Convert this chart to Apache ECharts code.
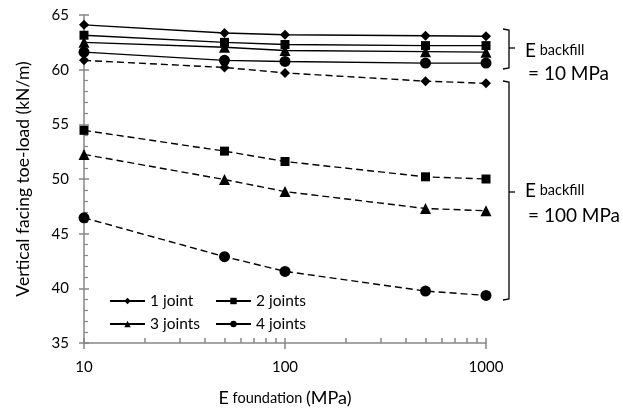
<!DOCTYPE html>
<html><head><meta charset="utf-8">
<script src="https://cdn.jsdelivr.net/npm/echarts@6/dist/echarts.min.js"></script>
<style>html,body{margin:0;padding:0;background:#fff}#c{width:623px;height:412px}</style>
</head><body><div id="c"></div>
<script>
var eFoundation = [10, 50, 100, 500, 1000];
var seriesNames = ['1 joint', '2 joints', '3 joints', '4 joints'];
// E backfill = 10 MPa (solid lines)
var bf10_1joint  = [64.1, 63.35, 63.2, 63.1, 63.05];
var bf10_2joints = [63.15, 62.5, 62.3, 62.2, 62.2];
var bf10_3joints = [62.5, 62.05, 61.75, 61.65, 61.6];
var bf10_4joints = [61.6, 60.85, 60.75, 60.6, 60.6];
// E backfill = 100 MPa (dashed lines)
var bf100_1joint  = [60.85, 60.2, 59.7, 58.95, 58.75];
var bf100_2joints = [54.45, 52.55, 51.6, 50.2, 50.0];
var bf100_3joints = [52.25, 49.95, 48.85, 47.3, 47.1];
var bf100_4joints = [46.45, 42.9, 41.55, 39.75, 39.35];
var yTicks = [35, 40, 45, 50, 55, 60, 65];
var xTicks = [10, 100, 1000];
var xMinorTicks = [20, 30, 40, 50, 60, 70, 80, 90, 200, 300, 400, 500, 600, 700, 800, 900];

var FONT = 'Lato';
var symbols = ['diamond', 'rect', 'triangle', 'circle'];
var symSizes = [10, 9, 11, 11];
function pairs(v) { return eFoundation.map(function (x, i) { return [x, v[i]]; }); }
function mk(name, idx, vals, dashed) {
  return {
    name: name, type: 'line', xAxisIndex: 0, yAxisIndex: 0,
    data: pairs(vals), symbol: symbols[idx], symbolSize: symSizes[idx],
    itemStyle: { color: '#000' },
    lineStyle: { color: '#000', width: 1.4, type: dashed ? [7, 4] : 'solid' },
    z: 3, animation: false
  };
}
var series = [
  mk(seriesNames[0], 0, bf10_1joint, false),
  mk(seriesNames[1], 1, bf10_2joints, false),
  mk(seriesNames[2], 2, bf10_3joints, false),
  mk(seriesNames[3], 3, bf10_4joints, false),
  mk(seriesNames[0], 0, bf100_1joint, true),
  mk(seriesNames[1], 1, bf100_2joints, true),
  mk(seriesNames[2], 2, bf100_3joints, true),
  mk(seriesNames[3], 3, bf100_4joints, true)
];

var axisGray = '#868686';
var legendText = { fontSize: 15.5, color: '#000', fontFamily: FONT, lineHeight: 18 };
var chart = echarts.init(document.getElementById('c'), null, { renderer: 'canvas' });
chart.setOption({
  animation: false,
  textStyle: { fontFamily: FONT },
  grid: { left: 84, right: 137, top: 15, bottom: 66 },
  xAxis: [{
    type: 'log', logBase: 10, min: 10, max: 1000,
    axisLine: { lineStyle: { color: axisGray, width: 1.5 } },
    axisTick: { show: true, length: 6, inside: false, lineStyle: { color: axisGray, width: 1.5 } },
    splitLine: { show: false },
    axisLabel: { color: '#000', fontSize: 15, fontFamily: FONT, margin: 17, formatter: function (v) { return String(v); } },
    name: '{e|E}{s| foundation }{e|(MPa)}', nameLocation: 'middle', nameGap: 46,
    nameTextStyle: { rich: { e: { fontSize: 18, fontFamily: FONT, color: '#000' }, s: { fontSize: 14.5, fontFamily: FONT, color: '#000' } } }
  }, {
    type: 'log', logBase: 10, min: 10, max: 1000, position: 'bottom', offset: 0,
    axisLine: { show: false },
    axisTick: { show: true, inside: true, length: 5, customValues: xTicks.concat(xMinorTicks), lineStyle: { color: axisGray, width: 1.5 } },
    axisLabel: { show: false }, splitLine: { show: false }
  }],
  yAxis: [{
    type: 'value', min: 35, max: 65, interval: 5,
    axisLine: { show: true, lineStyle: { color: axisGray, width: 1.5 } },
    axisTick: { show: true, length: 5, lineStyle: { color: axisGray, width: 1.5 } },
    splitLine: { show: false },
    axisLabel: { color: '#000', fontSize: 15, fontFamily: FONT, margin: 15 },
    name: 'Vertical facing toe-load (kN/m)', nameLocation: 'middle', nameGap: 52,
    nameTextStyle: { fontSize: 17.5, color: '#000', fontFamily: FONT }
  }, {
    type: 'value', min: 35, max: 65, interval: 5, position: 'left', offset: 0,
    axisLine: { show: false },
    axisTick: { show: true, inside: true, length: 5, lineStyle: { color: axisGray, width: 1.5 } },
    minorTick: { show: true, splitNumber: 5, length: 4, lineStyle: { color: axisGray, width: 1.2 } },
    axisLabel: { show: false }, splitLine: { show: false }
  }],
  legend: [{
    orient: 'vertical', left: 104, top: 287, itemWidth: 35, itemHeight: 8, itemGap: 5,
    data: [seriesNames[0], seriesNames[2]],
    textStyle: legendText, selectedMode: false
  }, {
    orient: 'vertical', left: 210, top: 287, itemWidth: 35, itemHeight: 8, itemGap: 5,
    data: [seriesNames[1], seriesNames[3]],
    textStyle: legendText, selectedMode: false
  }],
  graphic: [
    { type: 'polyline', shape: { points: [[503, 29], [509, 30], [509, 68], [503, 69]] }, style: { stroke: '#000', lineWidth: 1.3, fill: null } },
    { type: 'line', shape: { x1: 509, y1: 48, x2: 515, y2: 48 }, style: { stroke: '#000', lineWidth: 1.3 } },
    { type: 'polyline', shape: { points: [[503, 81], [509, 82], [509, 299], [503, 300]] }, style: { stroke: '#000', lineWidth: 1.3, fill: null } },
    { type: 'line', shape: { x1: 509, y1: 192, x2: 515, y2: 192 }, style: { stroke: '#000', lineWidth: 1.3 } },
    { type: 'text', left: 525, top: 41, style: { text: '{e|E}{s| backfill}', rich: { e: { fontSize: 19, fontFamily: FONT, fill: '#000' }, s: { fontSize: 14.5, fontFamily: FONT, fill: '#000' } } } },
    { type: 'text', left: 528, top: 64, style: { text: '= 10 MPa', fontSize: 19, fontFamily: FONT, fill: '#000' } },
    { type: 'text', left: 525, top: 181, style: { text: '{e|E}{s| backfill}', rich: { e: { fontSize: 19, fontFamily: FONT, fill: '#000' }, s: { fontSize: 14.5, fontFamily: FONT, fill: '#000' } } } },
    { type: 'text', left: 528, top: 206, style: { text: '= 100 MPa', fontSize: 19, fontFamily: FONT, fill: '#000' } }
  ],
  series: series
});
</script></body></html>
